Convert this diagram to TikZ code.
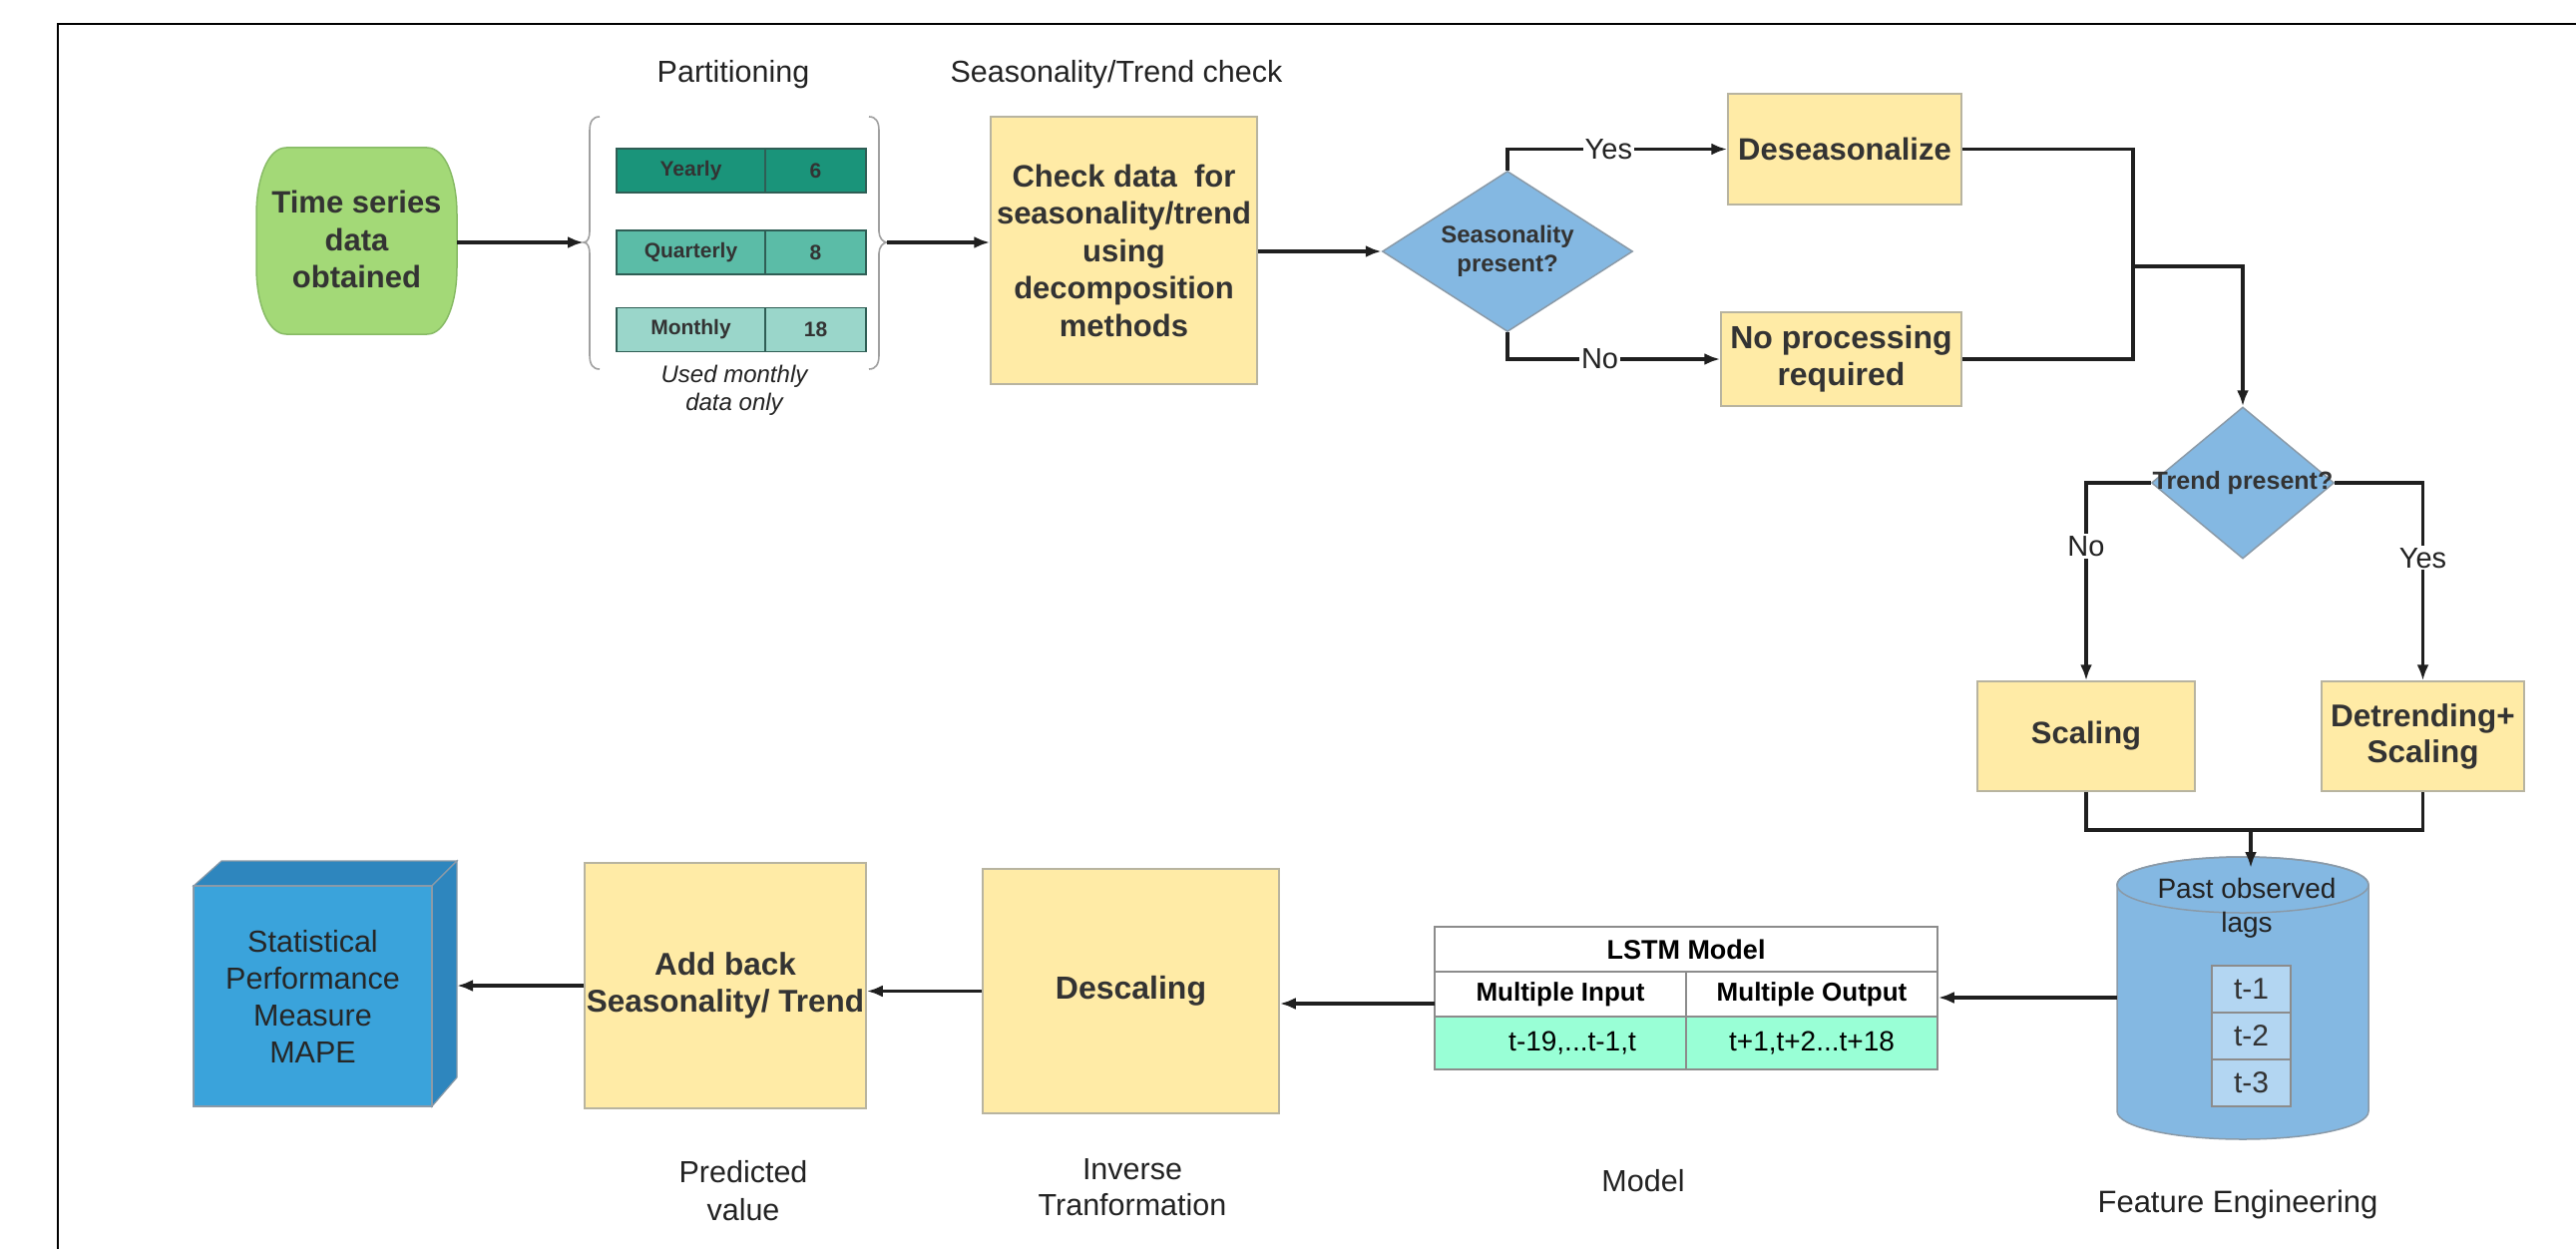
\documentclass[tikz,border=0pt]{standalone}
\usepackage{fontspec}
\setmainfont{Liberation Sans}
\usetikzlibrary{shapes.geometric,arrows.meta}
\definecolor{txt}{HTML}{333333}
\definecolor{lbltxt}{HTML}{222222}
\definecolor{yfill}{HTML}{FFEBA6}
\definecolor{ygray}{HTML}{B8B4A0}
\definecolor{dblue}{HTML}{84B8E2}
\definecolor{dgray}{HTML}{8A9AA8}
\definecolor{tsfill}{HTML}{A3D977}
\definecolor{tsline}{HTML}{88BB66}
\definecolor{barA}{HTML}{1A947A}
\definecolor{barB}{HTML}{5BBCA7}
\definecolor{barC}{HTML}{9AD6CA}
\definecolor{barline}{HTML}{2F5E55}
\definecolor{mint}{HTML}{99FFD6}
\definecolor{tgray}{HTML}{8C8C8C}
\definecolor{tbox}{HTML}{B3D6F2}
\definecolor{cubefront}{HTML}{3AA3DB}
\definecolor{cubeside}{HTML}{2E86BE}
\definecolor{bracegray}{HTML}{A0A0A0}
\newcommand{\myfs}[2]{\fontsize{#1}{#2}\selectfont}
\begin{document}
\begin{tikzpicture}[x=1pt,y=-1pt,
  conn/.style={line width=3.2pt, draw=black!88, line join=miter},
  arr/.style={-{Latex[length=16pt,width=12pt]}},
  ybox/.style={draw=ygray, fill=yfill, line width=1.5pt, inner sep=0pt, align=center, text=txt, font=\bfseries\myfs{31}{37}},
  diam/.style={diamond, draw=dgray, fill=dblue, line width=1.5pt, inner sep=0pt},
  dtext/.style={align=center, text=txt, inner sep=0pt},
  lbl/.style={fill=white, inner sep=2pt, text=lbltxt, font=\myfs{29}{35}},
  captxt/.style={align=center, text=lbltxt, font=\myfs{30.5}{37}},
  bar/.style={draw=barline, line width=1.5pt, inner sep=0pt, text=txt, font=\bfseries\myfs{21}{25}, minimum height=44},
  cell/.style={draw=tgray, line width=1.5pt, inner sep=0pt, text=black, minimum width=252},
  tcell/.style={draw=tgray, fill=tbox, line width=1.5pt, inner sep=0pt, text=txt, font=\myfs{30}{36}, minimum width=79, minimum height=47},
  bracestyle/.style={draw=bracegray, line width=1.6pt}
]
\useasboundingbox (0,0) rectangle (2582,1252);
% frame
\draw[line width=2.6pt, black] (58,1252) -- (58,24) -- (2582,24);

% headers
\node[captxt] (hpart) at (735,75) {Partitioning};
\node[captxt] (hseas) at (1119,75) {Seasonality/Trend check};

% time series shape
\path[draw=tsline, fill=tsfill, line width=1.5pt]
  (287,148) -- (428,148) .. controls (447,148) and (458,180) .. (458,215)
  -- (458,268) .. controls (458,303) and (447,335) .. (428,335)
  -- (287,335) .. controls (268,335) and (257,303) .. (257,268)
  -- (257,215) .. controls (257,180) and (268,148) .. (287,148) -- cycle;
\node[dtext, font=\bfseries\myfs{31}{37.5}, minimum width=201, minimum height=187] (ts) at (357.5,240) {Time series\\data\\obtained};

% braces
\path[bracestyle] (601,117) .. controls (594,117) and (591,122) .. (591,131)
  -- (591,232) .. controls (591,238) and (589,243) .. (585,243)
  .. controls (589,243) and (591,248) .. (591,254)
  -- (591,356) .. controls (591,365) and (594,370) .. (601,370);
\path[bracestyle] (871,117) .. controls (878,117) and (881,122) .. (881,131)
  -- (881,232) .. controls (881,238) and (885,243) .. (889,243)
  .. controls (885,243) and (881,248) .. (881,254)
  -- (881,356) .. controls (881,365) and (878,370) .. (871,370);
\coordinate (bl) at (585,243);
\coordinate (br) at (889,243);

% bars
\node[bar, fill=barA, minimum width=149] (yl) at (692.5,171) {Yearly};
\node[bar, fill=barA, minimum width=101] (yr) at (817.5,171) {6};
\node[bar, fill=barB, minimum width=149] (ql) at (692.5,253) {Quarterly};
\node[bar, fill=barB, minimum width=101] (qr) at (817.5,253) {8};
\node[bar, fill=barC, minimum width=149] (ml) at (692.5,330.5) {Monthly};
\node[bar, fill=barC, minimum width=101] (mr) at (817.5,330.5) {18};
\node[dtext, text=lbltxt, font=\itshape\myfs{24}{28}] (used) at (736,391) {Used monthly\\data only};

% check box
\node[ybox, font=\bfseries\myfs{31}{37.5}, minimum width=267, minimum height=268] (check) at (1126.5,251)
  {Check data\ \ for\\seasonality/trend\\using\\decomposition\\methods};

% seasonality diamond
\node[diam, minimum width=251, minimum height=161] (sdiam) at (1511,252) {};
\node[dtext, font=\bfseries\myfs{24}{29}] (sdtext) at (sdiam.center) {Seasonality\\present?};

\node[ybox, minimum width=234, minimum height=111] (deseas) at (1849,149.5) {Deseasonalize};
\node[ybox, font=\bfseries\myfs{32}{37}, minimum width=241, minimum height=94] (noproc) at (1845.5,360) {No processing\\required};

% trend diamond
\node[diam, minimum width=183, minimum height=152] (tdiam) at (2248,484) {};
\node[dtext, font=\bfseries\myfs{25}{28}] (tdtext) at (tdiam.center) {Trend present?};

\node[ybox, font=\bfseries\myfs{31}{36}, minimum width=218, minimum height=110] (scal) at (2091,738) {Scaling};
\node[ybox, font=\bfseries\myfs{31.5}{36}, minimum width=203, minimum height=110] (detr) at (2428.5,738) {Detrending+\\Scaling};

% cylinder
\path[draw=dgray, fill=dblue, line width=1.5pt]
  (2122,887) -- (2122,1114) arc[start angle=180, end angle=360, x radius=126pt, y radius=28pt]
  -- (2374,887) arc[start angle=0, end angle=180, x radius=126pt, y radius=28pt] -- cycle;
\draw[dgray, line width=1.5pt] (2248,887) ellipse[x radius=126pt, y radius=28pt];
\node[minimum width=252, minimum height=283, inner sep=0pt] (cyl) at (2248,1000) {};
\node[dtext, text=lbltxt, font=\myfs{28}{34}] (past) at (2252,910) {Past observed\\lags};
\node[tcell] (t1) at (2256.5,991.5) {t-1};
\node[tcell] (t2) at (2256.5,1038.5) {t-2};
\node[tcell] (t3) at (2256.5,1085.5) {t-3};
\coordinate (cyltop) at (2256,870);

% LSTM table
\node[cell, minimum width=504, minimum height=45, font=\bfseries\myfs{27}{32}] (lstm) at (1690,951.5) {LSTM Model};
\node[cell, minimum height=45, font=\bfseries\myfs{26}{31}] (mi) at (1564,996.5) {Multiple Input};
\node[cell, minimum height=45, font=\bfseries\myfs{26}{31}] (mo) at (1816,996.5) {Multiple Output};
\node[cell, fill=mint, minimum height=53, font=\myfs{28}{33}] (vi) at (1564,1045.5) {\hspace{24pt}t-19,...t-1,t};
\node[cell, fill=mint, minimum height=53, font=\myfs{28}{33}] (vo) at (1816,1045.5) {t+1,t+2...t+18};
\coordinate (lstmL) at (1438,1006);

% bottom row
\node[ybox, font=\bfseries\myfs{32}{37}, minimum width=297, minimum height=245] (desc) at (1133.5,993.5) {Descaling};
\node[ybox, font=\bfseries\myfs{31.5}{37}, minimum width=282, minimum height=246] (addb) at (727,988) {Add back\\Seasonality/ Trend};

% cube
\path[draw=dgray, fill=cubeside, line width=1.2pt] (194,888) -- (222,863) -- (458,863) -- (433,888) -- cycle;
\path[draw=dgray, fill=cubeside, line width=1.2pt] (433,888) -- (458,863) -- (458,1080) -- (433,1109) -- cycle;
\node[draw=dgray, fill=cubefront, line width=1.2pt, minimum width=239, minimum height=221, inner sep=0pt, align=center, text=black!85, font=\myfs{30.5}{37}] (stat) at (313.5,998.5) {Statistical\\Performance\\Measure\\MAPE};
\coordinate (statR) at (458,988);

% captions
\node[captxt, font=\myfs{30.5}{38}] (cpred) at (745,1194) {Predicted\\value};
\node[captxt, font=\myfs{30.5}{36}] (cinv) at (1135,1190) {Inverse\\Tranformation};
\node[captxt] (cmodel) at (1647,1184) {Model};
\node[captxt, font=\myfs{31}{37}] (cfeat) at (2243,1207) {Feature Engineering};

% connectors
\draw[conn,arr] (ts.east |- bl) -- (bl);
\draw[conn,arr] (br) -- (br -| check.west);
\draw[conn,arr] (check.east |- sdiam.west) -- (sdiam.west);
\draw[conn,arr] (sdiam.north) |- node[lbl, pos=0.73] {Yes} (deseas.west);
\draw[conn,arr] (sdiam.south) |- node[lbl, pos=0.717] {No} (noproc.west);
\coordinate (mx) at (2138,267);
\draw[conn] (deseas.east) -| (mx |- noproc.east) -- (noproc.east);
\draw[conn,arr] (mx) -| (tdiam.north);
\draw[conn,arr] (tdiam.west) -| node[lbl, pos=0.66] {No} (scal.north);
\draw[conn,arr] (tdiam.east) -| node[lbl, pos=0.69] {Yes} (detr.north);
\coordinate (jb) at (2256,832);
\draw[conn] (scal.south) |- (detr.south |- jb) -- (detr.south);
\draw[conn,arr] (jb) -- (cyltop);
\draw[conn,arr] (cyl.west) -- (cyl.west -| mo.east);
\draw[conn,arr] (lstmL) -- (lstmL -| desc.east);
\draw[conn,arr] (desc.west) -- (desc.west -| addb.east);
\draw[conn,arr] (addb.west) -- (statR);
\end{tikzpicture}
\end{document}
